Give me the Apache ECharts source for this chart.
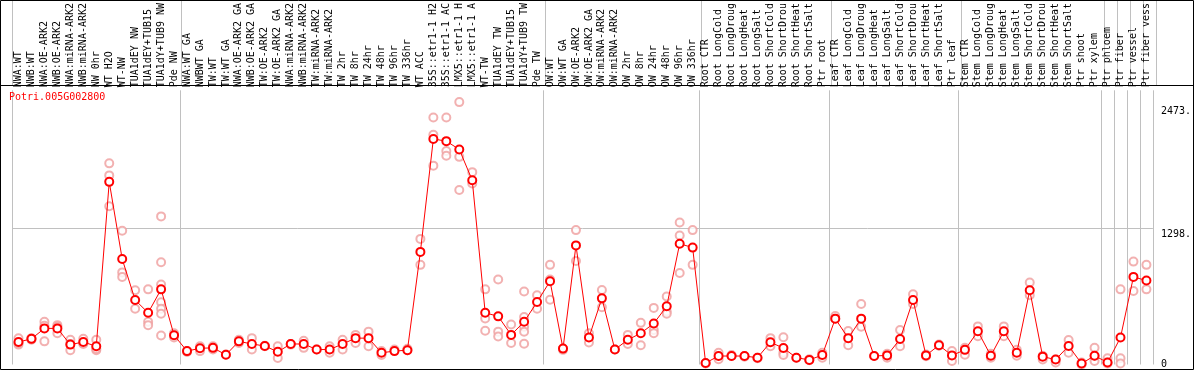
<!DOCTYPE html>
<html><head><meta charset="utf-8">
<script src="https://cdn.jsdelivr.net/npm/echarts@6/dist/echarts.min.js"></script>
<style>html,body{margin:0;padding:0;background:#fff}#c{width:1194px;height:370px}</style>
</head><body><div id="c"></div>
<script>
const chartTitle = 'Potri.005G002800';
const categories = [
 'NWA:WT','NWB:WT','NWA:OE-ARK2','NWB:OE-ARK2','NWA:miRNA-ARK2','NWB:miRNA-ARK2','NW 0hr','WT H2O','WT-NW','TUA1dEY NW','TUA1dEY+TUB15','TUA1dY+TUB9 NW','Pde NW',
 'NWA:WT GA','NWBWT GA','TW:WT','TW:WT GA','NWA:OE-ARK2 GA','NWB:OE-ARK2 GA','TW:OE-ARK2','TW:OE-ARK2 GA','NWA:miRNA-ARK2','NWB:miRNA-ARK2','TW:miRNA-ARK2','TW:miRNA-ARK2',
 'TW 2hr','TW 8hr','TW 24hr','TW 48hr','TW 96hr','TW 336hr','WT ACC','35S::etr1-1 H2','35S::etr1-1 AC','LMX5::etr1-1 H','LMX5::etr1-1 A','WT-TW','TUA1dEY TW','TUA1dEY+TUB15','TUA1dY+TUB9 TW','Pde TW',
 'OW:WT','OW:WT GA','OW:OE-ARK2','OW:OE-ARK2 GA','OW:miRNA-ARK2','OW:miRNA-ARK2','OW 2hr','OW 8hr','OW 24hr','OW 48hr','OW 96hr','OW 336hr',
 'Root CTR','Root LongCold','Root LongDroug','Root LongHeat','Root LongSalt','Root ShortCold','Root ShortDrou','Root ShortHeat','Root ShortSalt','Ptr root',
 'Leaf CTR','Leaf LongCold','Leaf LongDroug','Leaf LongHeat','Leaf LongSalt','Leaf ShortCold','Leaf ShortDrou','Leaf ShortHeat','Leaf ShortSalt','Ptr leaf',
 'Stem CTR','Stem LongCold','Stem LongDroug','Stem LongHeat','Stem LongSalt','Stem ShortCold','Stem ShortDrou','Stem ShortHeat','Stem ShortSalt','Ptr shoot','Ptr xylem',
 'Ptr phloem','Ptr fiber','Ptr vessel','Ptr fiber vess'
];
const meanValues = [
 215,245,345,345,190,215,174,1745,1008,616,494,718,280,
 128,155,159,93,221,196,177,121,196,196,143,143,196,252,252,112,128,137,1076,2155,2134,2055,1760,494,460,283,408,597,
 796,152,1138,258,632,143,236,299,392,557,1154,1117,
 15,81,81,81,65,212,157,65,44,90,
 438,252,438,81,87,243,616,87,184,87,
 140,317,84,317,112,709,75,47,177,9,84,
 19,258,837,802
];
const replicateValues = [
 [250,190,205],[252,236,245],[408,370,221],[376,360,299],[236,137,196],[245,205,196],[236,137,150],[1922,1807,1512],[1278,880,837],[709,532],[718,408,376],[1415,977,765,594,532,485,277],[299,258],
 [128,120],[174,128],[174,143],[96],[236,205],[252,143],[174,180],[174,62],[196,190],[227,159],[143],[174,112],[236,143],[283,205],[314,174],[90,128],[143],[137,150],[1200,952],[2360,2196,1900],[2360,2040,1994],[2507,1984,1667],[1838,1729],[718,439,323],[812,314,268],[383,205],[697,454,361,314,199],[662,532],
 [952,812,619],[152,140],[1284,989],[299,211],[712,547],[143],[283,196],[398,184],[541,330,299],[650,507,485],[1356,1232,874],[1284,952],
 [12,10],[112,50],[81,90],[81,75],[65,60],[252,174],[261,112,90],[65],[50,40],[112,65],
 [463,438],[320,184],[578,361],[81],[102,65],[330,174],[672,578],[96,80],[190,180],[128,34],
 [159,93],[364,270],[65,103],[364,270],[140,84],[784,662],[84,47],[47,19],[233,112],[19,0],[159,34,84],
 [59,9,19],[718,59,9],[983,703],[952,718]
];
const groupStarts = [0,13,41,53,63,73,84,85,86,87];
const yTickValues = [0,1298,2473];
const yTickLabels = ['0','1298.','2473.'];
const gridLineValues = [1298];
const yMax = 2620;

const FONT = 'DejaVu Sans Mono';
const chart = echarts.init(document.getElementById('c'), null, {renderer:'canvas'});
const splitInterval = (idx) => groupStarts.includes(idx);
const repData = [];
replicateValues.forEach((arr, i) => arr.forEach(v => repData.push([i, v])));
const gridSplit = {show:true, interval:splitInterval, lineStyle:{color:'#c0c0c0', width:1}};

chart.setOption({
  animation:false,
  title:{text:chartTitle, left:9, top:92, padding:0, textStyle:{color:'#ff0000', fontSize:10, fontWeight:'normal', fontFamily:FONT}},
  grid:[{left:12, right:38, top:1, height:84}, {left:12, right:38, top:86, bottom:2}],
  xAxis:[
    {type:'category', gridIndex:0, data:categories, axisLine:{show:false}, axisTick:{show:false}, axisLabel:{show:false}, splitLine:gridSplit},
    {type:'category', gridIndex:1, position:'top', data:categories, axisLine:{show:false}, axisTick:{show:false},
     axisLabel:{interval:0, rotate:90, margin:3, fontSize:10, fontFamily:FONT, color:'#000'}, splitLine:gridSplit}
  ],
  yAxis:[
    {type:'value', gridIndex:0, show:false},
    {type:'value', gridIndex:1, position:'right', min:0, max:yMax, axisLine:{show:false}, axisTick:{show:false}, splitLine:{show:false},
     axisLabel:{customValues:yTickValues, margin:8, fontSize:10, fontFamily:FONT, color:'#000', lineHeight:11, align:'left',
       formatter:(v) => { const i = yTickValues.indexOf(v); const s = i >= 0 ? yTickLabels[i] : ''; return v === 0 ? s : '\n' + s; }}}
  ],
  series:[
    {type:'scatter', xAxisIndex:1, yAxisIndex:1, data:repData, symbol:'emptyCircle', symbolSize:8, silent:true, z:2,
     itemStyle:{color:'#ef9d9d', borderColor:'#ef9d9d', borderWidth:1.2}},
    {type:'line', xAxisIndex:1, yAxisIndex:1, data:meanValues, symbol:'emptyCircle', symbolSize:8, showAllSymbol:true, z:3,
     lineStyle:{color:'#ff0000', width:1}, itemStyle:{color:'#ff0000', borderColor:'#ff0000', borderWidth:1.6},
     markLine:{silent:true, symbol:'none', label:{show:false}, z:1, lineStyle:{color:'#c0c0c0', width:1, type:'solid'},
       data:gridLineValues.map(v => ({yAxis:v}))}}
  ],
  graphic:[
    {type:'rect', shape:{x:0.5, y:0.5, width:1193, height:369}, style:{fill:null, stroke:'#000', lineWidth:1}, z:100},
    {type:'line', shape:{x1:0, y1:85.5, x2:1194, y2:85.5}, style:{stroke:'#000', lineWidth:1}, z:100}
  ]
});
</script></body></html>
